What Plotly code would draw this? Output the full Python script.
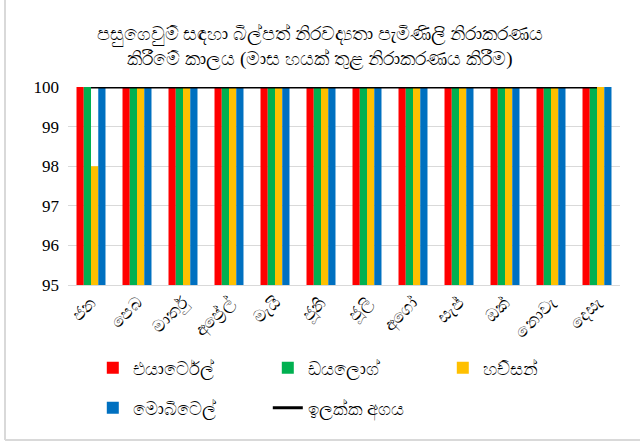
import plotly.graph_objects as go

months = ["ජන", "පෙබ", "මාර්තු", "අප්‍රේල්", "මැයි", "ජූනි", "ජූලි", "අගෝ", "සැප්", "ඔක්", "නොවැ", "දෙසැ"]
airtel = [100]*12
dialog = [100]*12
hutch = [98] + [100]*11
mobitel = [100]*12
target = [100]*12

series = [
    ("එයාර්ටෙල්", airtel, "#FF0000", "legend"),
    ("ඩයලොග්", dialog, "#00B050", "legend"),
    ("හච්සන්", hutch, "#FFC000", "legend"),
    ("මොබිටෙල්", mobitel, "#0070C0", "legend2"),
]

fig = go.Figure()
for name, vals, col, lg in series:
    fig.add_trace(go.Bar(x=months, y=vals, name=name, marker_color=col,
                         marker_line_width=0, legend=lg))
fig.add_trace(go.Scatter(x=months, y=target, name="ඉලක්ක අගය", mode="lines",
                         line=dict(color="black", width=3), legend="legend2"))

L, R, T, B = 68, 20, 87, 159
pw, ph = 640 - L - R, 444 - T - B
bx = (5 - L) / pw
by = (ph - (440 - T)) / ph

fig.update_layout(
    width=640, height=444,
    paper_bgcolor="white", plot_bgcolor="white",
    font=dict(family="Liberation Serif, Noto Sans, sans-serif", size=15, color="black"),
    title=dict(text="පසුගෙවුම් සඳහා බිල්පත් නිරවද්‍යතා පැමිණිලි නිරාකරණය<br>කිරීමේ කාලය (මාස හයක් තුළ නිරාකරණය කිරීම)",
               x=0.5, xanchor="center", y=0.91, yanchor="top", font=dict(size=19)),
    barmode="group", bargap=0.37, bargroupgap=0,
    margin=dict(l=L, r=R, t=T, b=B, autoexpand=False),
    showlegend=True,
    legend=dict(orientation="h", xref="container", yref="container", x=0.145, xanchor="left",
                y=1 - 368/444, yanchor="middle",
                entrywidth=130, entrywidthmode="pixels", font=dict(size=18),
                traceorder="normal", bgcolor="rgba(0,0,0,0)"),
    legend2=dict(orientation="h", xref="container", yref="container", x=0.145, xanchor="left",
                 y=1 - 408/444, yanchor="middle",
                 entrywidth=130, entrywidthmode="pixels", font=dict(size=18),
                 traceorder="normal", bgcolor="rgba(0,0,0,0)"),
    xaxis=dict(tickangle=-45, showline=True, linecolor="#D9D9D9", linewidth=1,
               ticks="", tickfont=dict(size=17), automargin=False),
    yaxis=dict(range=[95, 100], dtick=1, gridcolor="#D9D9D9", gridwidth=1,
               zeroline=False, tickfont=dict(size=17), ticks="", ticklabelstandoff=8,
               automargin=False),
    shapes=[
        dict(type="line", xref="paper", yref="paper", x0=bx, x1=bx, y0=by, y1=1 + T/ph,
             line=dict(color="#D9D9D9", width=2)),
        dict(type="line", xref="paper", yref="paper", x0=bx, x1=1 + R/pw, y0=by, y1=by,
             line=dict(color="#D9D9D9", width=2)),
    ],
)
fig.write_html("out.html", config={"displayModeBar": False},
               post_script="document.body.style.margin='0';")
